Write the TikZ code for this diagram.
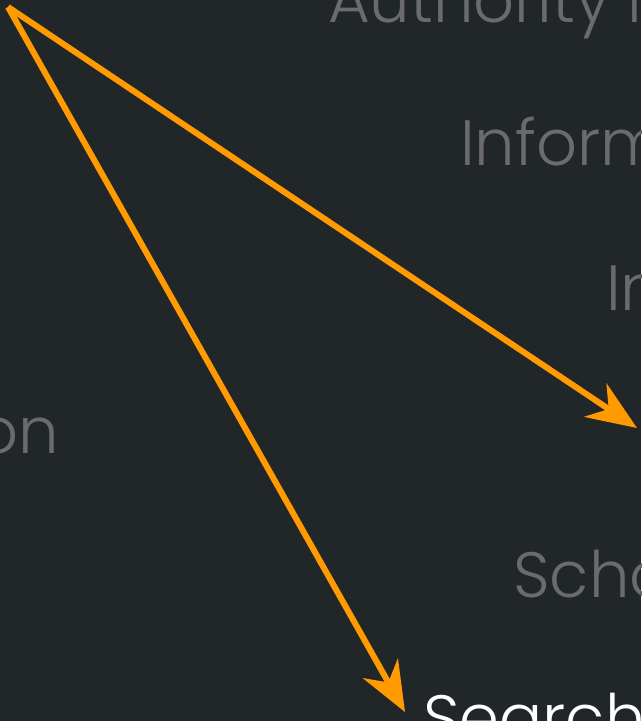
\documentclass[tikz,border=0pt]{standalone}
\usepackage{fontspec}
\setmainfont{Poppins Light}
\usetikzlibrary{arrows.meta}
\definecolor{slatebg}{HTML}{212729}
\definecolor{framegray}{HTML}{6B6B6B}
\definecolor{arroworange}{HTML}{FF9A00}
\begin{document}
\begin{tikzpicture}[x=1pt,y=-1pt,
    frame/.style={text=framegray,font=\fontsize{64}{64}\selectfont,inner sep=0pt},
    pointer/.style={draw=arroworange,line width=6pt,-{Stealth[length=50pt,width=40pt,inset=16pt]}}]
      \fill[slatebg] (0,0) rectangle (641,721);
      \useasboundingbox (0,0) rectangle (641,721);
      \clip (0,0) rectangle (641,721);
      \node[frame,anchor=base west] (f0) at (328,22) {Authority is};
      \node[frame,anchor=base west] (f1) at (460,165) {Inform};
      \node[frame,anchor=base west] (f2) at (606,310) {In};
      \node[frame,anchor=base east] (f3) at (59,453) {on};
      \node[frame,anchor=base west] (f4) at (513,597) {Scho};
      \node[frame,anchor=base west,text=white] (f5) at (423,740) {Search};
      \coordinate (a0) at (8,7); \coordinate (a1) at (637,428); \coordinate (a2) at (405,712);
      \draw[pointer] (a0) to (a1);
      \draw[pointer] (a0) to (a2);
    \end{tikzpicture}
\end{document}
